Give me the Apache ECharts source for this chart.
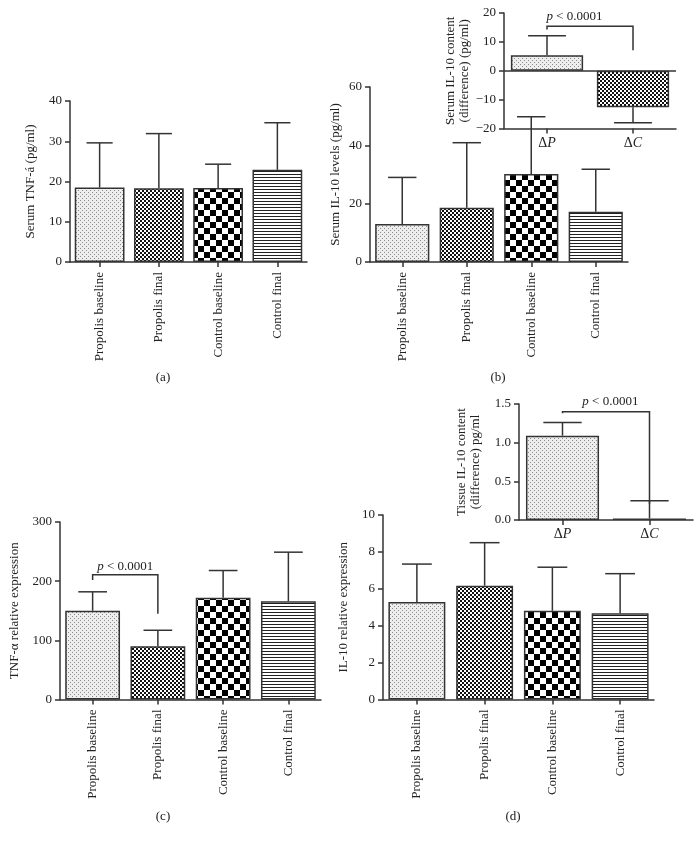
<!DOCTYPE html>
<html>
<head>
<meta charset="utf-8">
<script src="https://cdn.jsdelivr.net/npm/echarts@6/dist/echarts.min.js"></script>
<style>
html,body{margin:0;padding:0;background:#fff;}
#chart{width:700px;height:843px;}
</style>
</head>
<body>
<div id="chart"></div>
<script>
// ---------- data ----------
const categories = ['Propolis baseline', 'Propolis final', 'Control baseline', 'Control final'];
const deltaCats = ['ΔP', 'ΔC'];

const serumTnf = [18.5, 18.3, 18.4, 22.9];
const serumTnfErr = [11.1, 13.6, 5.9, 11.7];

const serumIl10 = [13.0, 18.6, 30.2, 17.2];
const serumIl10Err = [16.0, 22.3, 19.6, 14.6];

const serumIl10Diff = [5.4, -12.6];
const serumIl10DiffErr = [6.7, 5.4];

const tnfExpr = [150, 90, 172, 166];
const tnfExprErr = [32, 27, 46, 83];

const il10Expr = [5.28, 6.17, 4.81, 4.67];
const il10ExprErr = [2.06, 2.33, 2.36, 2.15];

const tissueIl10Diff = [1.09, 0.02];
const tissueIl10DiffErr = [0.17, 0.23];

// significance brackets: [fromIdx, toIdx, leftFoot, top, rightFoot, textX, textY]
const bracketB = [[0, 1, 14.3, 15.4, 7.1, 0.32, 18.6]];
const bracketC = [[0, 1, 202, 211, 145, 0.5, 225]];
const bracketD = [[0, 1, 1.38, 1.40, 0.21, 0.55, 1.53]];
const pText = 'p < 0.0001';

// ---------- styles ----------
const FONT = 'Liberation Serif';
const INK = '#222';
const LINE = '#333';

function pattern(kind) {
  const c = document.createElement('canvas');
  const g = c.getContext('2d');
  if (kind === 'stipple') {
    c.width = 4; c.height = 4;
    g.fillStyle = '#eeeeee'; g.fillRect(0, 0, 4, 4);
    g.fillStyle = '#8a8a8a';
    g.fillRect(0, 0, 1, 1); g.fillRect(2, 2, 1, 1);
  } else if (kind === 'fine') {
    c.width = 4; c.height = 4;
    g.fillStyle = '#ffffff'; g.fillRect(0, 0, 4, 4);
    g.fillStyle = '#111';
    g.fillRect(0, 0, 2, 2); g.fillRect(2, 2, 2, 2);
  } else if (kind === 'big') {
    c.width = 12; c.height = 12;
    g.fillStyle = '#ffffff'; g.fillRect(0, 0, 12, 12);
    g.fillStyle = '#000';
    g.fillRect(0, 0, 6, 6); g.fillRect(6, 6, 6, 6);
  } else {
    c.width = 4; c.height = 3;
    g.fillStyle = '#ffffff'; g.fillRect(0, 0, 4, 3);
    g.fillStyle = '#222';
    g.fillRect(0, 0, 4, 1);
  }
  return { image: c, repeat: 'repeat' };
}
const fills = [pattern('stipple'), pattern('fine'), pattern('big'), pattern('stripe')];

const grids = [
  { left: 70, top: 101, width: 237, height: 161 },     // a
  { left: 370, top: 87, width: 258, height: 175 },     // b
  { left: 504, top: 13, width: 172, height: 115.5 },   // b inset
  { left: 60, top: 522, width: 261, height: 177.5 },   // c
  { left: 383, top: 515, width: 271, height: 184.5 },  // d
  { left: 519, top: 404, width: 174, height: 116 }     // d inset
];

const txt = { fontFamily: FONT, fontSize: 13, color: INK };

function xCat(gi, data, isDelta, margin) {
  const ax = {
    type: 'category', gridIndex: gi, data: data,
    axisLine: { show: true, onZero: false, lineStyle: { color: LINE, width: 1.5 } },
    axisTick: { show: true, alignWithLabel: true, length: 5, lineStyle: { color: LINE, width: 1.5 } },
    axisLabel: Object.assign({}, txt, { margin: margin })
  };
  if (isDelta) {
    ax.axisLabel.formatter = v => '{n|Δ}{i|' + v.slice(1) + '}';
    ax.axisLabel.rich = {
      n: { fontFamily: FONT, fontSize: 14, color: INK },
      i: { fontFamily: FONT, fontSize: 14, color: INK, fontStyle: 'italic' }
    };
  } else {
    ax.axisLabel.rotate = 90;
  }
  return ax;
}
function yVal(gi, min, max, interval, name, gap, dec) {
  return {
    type: 'value', gridIndex: gi, min: min, max: max, interval: interval,
    name: name, nameLocation: 'middle', nameGap: gap, nameRotate: 90,
    nameTextStyle: { fontFamily: FONT, fontSize: 13, color: INK, lineHeight: 14 },
    axisLine: { show: true, lineStyle: { color: LINE, width: 1.5 } },
    axisTick: { show: true, length: 5, lineStyle: { color: LINE, width: 1.5 } },
    splitLine: { show: false },
    axisLabel: Object.assign({}, txt, {
      margin: 8,
      formatter: v => (dec ? v.toFixed(dec) : String(v)).replace('-', '−')
    })
  };
}

function barSeries(idx, vals) {
  return {
    type: 'bar', xAxisIndex: idx, yAxisIndex: idx, barCategoryGap: '16%',
    data: vals.map((v, i) => ({ value: v, itemStyle: { color: fills[i] } })),
    itemStyle: { borderColor: LINE, borderWidth: 1.5 },
    silent: true, animation: false
  };
}
function errRender(params, api) {
  const i = api.value(0), v = api.value(1), e = api.value(2);
  const end = v >= 0 ? v + e : v - e;
  const p0 = api.coord([i, v]);
  const p1 = api.coord([i, end]);
  const hw = api.size([1, 0])[0] * 0.22;
  const st = { stroke: LINE, lineWidth: 1.5 };
  return {
    type: 'group', children: [
      { type: 'line', shape: { x1: p0[0], y1: p0[1], x2: p1[0], y2: p1[1] }, style: st },
      { type: 'line', shape: { x1: p1[0] - hw, y1: p1[1], x2: p1[0] + hw, y2: p1[1] }, style: st }
    ]
  };
}
function errSeries(idx, vals, errs) {
  return {
    type: 'custom', xAxisIndex: idx, yAxisIndex: idx, z: 5, clip: false,
    renderItem: errRender, silent: true, animation: false,
    data: vals.map((v, i) => [i, v, errs[i]])
  };
}
function bracketRender(params, api) {
  const a = api.value(0), b = api.value(1);
  const pl = api.coord([a, api.value(2)]);
  const plt = api.coord([a, api.value(3)]);
  const prt = api.coord([b, api.value(3)]);
  const pr = api.coord([b, api.value(4)]);
  const bw = api.size([1, 0])[0];
  const pt = api.coord([a, api.value(6)]);
  const tx = pl[0] + api.value(5) * bw * (b - a);
  return {
    type: 'group', children: [
      { type: 'polyline', shape: { points: [pl, plt, prt, pr] }, style: { stroke: LINE, lineWidth: 1.5, fill: null } },
      { type: 'text', x: tx, y: pt[1], style: {
          text: '{i|p} < 0.0001', align: 'center', verticalAlign: 'middle',
          font: '13px ' + FONT, fill: INK,
          rich: { i: { fontFamily: FONT, fontSize: 13, fontStyle: 'italic', fill: INK } }
      } }
    ]
  };
}
function bracketSeries(idx, data) {
  return {
    type: 'custom', xAxisIndex: idx, yAxisIndex: idx, z: 6, clip: false,
    renderItem: bracketRender, silent: true, animation: false, data: data
  };
}

const insetB = barSeries(2, serumIl10Diff);
insetB.markLine = {
  silent: true, symbol: 'none', label: { show: false }, animation: false,
  lineStyle: { color: LINE, width: 1.5, type: 'solid' },
  data: [{ yAxis: 0 }]
};

const option = {
  backgroundColor: '#fff',
  animation: false,
  grid: grids,
  xAxis: [
    xCat(0, categories, false, 10),
    xCat(1, categories, false, 10),
    xCat(2, deltaCats, true, 8),
    xCat(3, categories, false, 10),
    xCat(4, categories, false, 10),
    xCat(5, deltaCats, true, 7)
  ],
  yAxis: [
    yVal(0, 0, 40, 10, 'Serum TNF-á (pg/ml)', 32),
    yVal(1, 0, 60, 20, 'Serum IL-10 levels (pg/ml)', 27),
    yVal(2, -20, 20, 10, 'Serum IL-10 content\n(difference) (pg/ml)', 31),
    yVal(3, 0, 300, 100, 'TNF-α relative expression', 38),
    yVal(4, 0, 10, 2, 'IL-10 relative expression', 32),
    yVal(5, 0, 1.5, 0.5, 'Tissue IL-10 content\n(difference) pg/ml', 36, 1)
  ],
  series: [
    barSeries(0, serumTnf), errSeries(0, serumTnf, serumTnfErr),
    barSeries(1, serumIl10), errSeries(1, serumIl10, serumIl10Err),
    insetB, errSeries(2, serumIl10Diff, serumIl10DiffErr), bracketSeries(2, bracketB),
    barSeries(3, tnfExpr), errSeries(3, tnfExpr, tnfExprErr), bracketSeries(3, bracketC),
    barSeries(4, il10Expr), errSeries(4, il10Expr, il10ExprErr),
    barSeries(5, tissueIl10Diff), errSeries(5, tissueIl10Diff, tissueIl10DiffErr), bracketSeries(5, bracketD)
  ],
  graphic: [
    ['(a)', 163, 378], ['(b)', 498, 378], ['(c)', 163, 817], ['(d)', 513, 817]
  ].map(t => ({
    type: 'text', x: t[1], y: t[2], silent: true,
    style: { text: t[0], align: 'center', verticalAlign: 'middle', font: '13px ' + FONT, fill: INK }
  }))
};

const chart = echarts.init(document.getElementById('chart'), null, { renderer: 'canvas' });
chart.setOption(option);
</script>
</body>
</html>
